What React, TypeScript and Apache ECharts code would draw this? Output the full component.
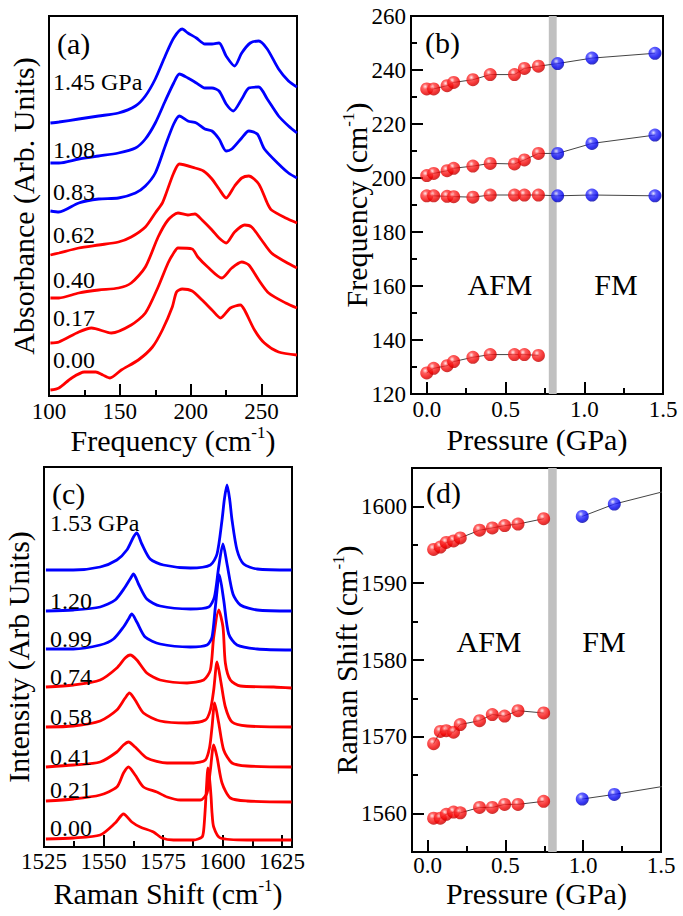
import React, { useEffect, useRef } from 'react';
import * as echarts from 'echarts';

const FONT = 'Liberation Serif';
const RED = '#ff0000';
const BLUE = '#0000ff';
const LINE_GRAY = '#444444';

// ---------------- Panel (a): absorbance spectra (x: cm-1, y: arb. units) ----------------
const absLabelTicks = [100, 150, 200, 250];
const absMajorTicks = [100, 150, 200, 250];
const absMinorTicks = [125, 175, 225];

const abs000X = [101, 107, 116, 125, 133, 138, 143, 151, 163, 173, 180, 187, 190, 194, 201, 208, 215, 221, 228, 235, 238, 245, 252, 262, 275];
const abs000Y = [6, 8, 18, 24, 24, 21, 18, 26, 36, 49, 66, 89, 104, 107, 105, 96, 86, 78, 88, 91, 86, 66, 53, 44, 41];
const abs017X = [101, 107, 121, 130, 144, 158, 168, 177, 184, 188, 191, 201, 205, 212, 222, 229, 236, 241, 248, 255, 267, 275];
const abs017Y = [53, 54, 64, 68, 63, 71, 83, 109, 133, 143, 148, 147, 139, 129, 118, 128, 134, 131, 116, 103, 93, 88];
const abs040X = [101, 107, 121, 135, 149, 158, 168, 177, 184, 191, 198, 203, 208, 215, 220, 225, 231, 238, 243, 250, 257, 267, 275];
const abs040Y = [98, 98, 103, 106, 108, 113, 129, 159, 176, 183, 181, 182, 176, 166, 158, 153, 164, 171, 169, 156, 143, 134, 128];
const abs062X = [101, 107, 121, 135, 149, 158, 168, 175, 180, 182, 188, 192, 203, 209, 215, 220, 225, 231, 236, 241, 248, 254, 257, 267, 275];
const abs062Y = [141, 143, 148, 151, 154, 159, 169, 183, 193, 200, 223, 232, 228, 225, 217, 207, 198, 210, 218, 220, 212, 193, 186, 178, 173];
const abs083X = [101, 107, 121, 135, 149, 161, 168, 175, 182, 188, 192, 198, 204, 210, 215, 220, 225, 229, 236, 241, 247, 252, 262, 269, 275];
const abs083Y = [185, 184, 193, 197, 198, 203, 210, 223, 250, 272, 280, 275, 273, 267, 265, 257, 245, 247, 258, 265, 262, 247, 232, 223, 218];
const abs108X = [101, 107, 121, 135, 149, 161, 168, 175, 182, 188, 192, 198, 204, 210, 215, 220, 225, 230, 236, 241, 248, 254, 262, 269, 275];
const abs108Y = [233, 233, 237, 240, 243, 248, 257, 273, 295, 313, 322, 318, 313, 308, 308, 305, 292, 285, 297, 308, 309, 297, 280, 270, 263];
const abs145X = [101, 107, 121, 135, 149, 161, 168, 175, 182, 188, 194, 198, 204, 210, 215, 220, 225, 231, 236, 242, 248, 254, 262, 269, 275];
const abs145Y = [273, 274, 277, 280, 283, 290, 300, 317, 340, 358, 367, 363, 358, 352, 352, 353, 340, 330, 343, 353, 355, 347, 327, 315, 309];

const absPressureLabels = ['1.45 GPa', '1.08', '0.83', '0.62', '0.40', '0.17', '0.00'];

// ---------------- Panel (b): IR mode frequencies vs pressure ----------------
const bPressureAFM = [0.0, 0.044, 0.129, 0.171, 0.293, 0.403, 0.557, 0.62, 0.709];
const bPressureFM = [0.831, 1.049, 1.449];
const bMode1AFM = [233.0, 233.0, 234.2, 235.4, 236.4, 238.3, 238.3, 240.6, 241.4];
const bMode1FM = [242.4, 244.4, 246.2];
const bMode2AFM = [200.9, 201.7, 202.7, 203.6, 204.4, 205.4, 205.2, 206.7, 209.1];
const bMode2FM = [209.1, 212.8, 215.9];
const bMode3AFM = [193.4, 193.4, 193.2, 193.1, 192.9, 193.7, 193.7, 193.7, 193.7];
const bMode3FM = [193.4, 193.7, 193.4];
const bMode4AFM = [127.8, 129.5, 130.5, 132.0, 133.6, 134.6, 134.6, 134.6, 134.3];
const bBand = [0.775, 0.825];
const bYLabels = [120, 140, 160, 180, 200, 220, 240, 260];
const bYMinor = [130, 150, 170, 190, 210, 230, 250];
const pLabels = [0, 0.5, 1.0, 1.5];
const pMinor = [0.25, 0.75, 1.25];

// ---------------- Panel (c): Raman spectra ----------------
const ramLabelTicks = [1525, 1550, 1575, 1600, 1625];
const ramMajorTicks = [1550, 1575, 1600, 1625];
const ramMinorTicks = [1537.5, 1562.5, 1587.5, 1612.5];

const ram000X = [1525.8, 1537.3, 1548.6, 1554.9, 1558.4, 1561.9, 1565.4, 1571.0, 1574.5, 1579.4, 1587.9, 1591.4, 1592.1, 1592.8, 1593.2, 1593.9, 1594.6, 1595.2, 1595.6, 1596.3, 1599.1, 1610.3, 1629];
const ram000Y = [8, 9, 12, 24, 33, 25, 20, 15, 9, 7, 7, 10, 17, 40, 57, 79, 67, 50, 34, 20, 9, 7, 7];
const ram021X = [1525.8, 1537.3, 1548.6, 1555.6, 1558.4, 1560.5, 1563.3, 1566.8, 1572.4, 1576.7, 1582.3, 1590.7, 1593.5, 1594.9, 1596.3, 1597.7, 1599.8, 1603.3, 1610.3, 1629];
const ram021Y = [46, 48, 52, 60, 74, 80, 72, 60, 55, 50, 47, 47, 54, 77, 102, 90, 64, 49, 46, 45];
const ram041X = [1525.8, 1537.3, 1548.6, 1555.6, 1558.4, 1560.5, 1563.3, 1568.2, 1576.7, 1587.9, 1592.8, 1594.6, 1595.6, 1596.7, 1598.4, 1600.5, 1604.0, 1610.3, 1629];
const ram041Y = [80, 82, 85, 95, 102, 105, 100, 89, 84, 84, 87, 100, 120, 144, 124, 97, 84, 81, 80];
const ram058X = [1525.8, 1537.3, 1548.6, 1555.6, 1559.1, 1560.9, 1563.3, 1566.8, 1573.8, 1585.1, 1592.8, 1594.9, 1596.3, 1597.7, 1599.4, 1601.2, 1604.0, 1610.3, 1629];
const ram058Y = [120, 121, 126, 137, 149, 154, 147, 134, 126, 124, 127, 137, 157, 185, 164, 140, 125, 121, 120];
const ram074X = [1525.8, 1537.3, 1548.6, 1555.6, 1559.1, 1561.2, 1564.0, 1568.2, 1573.8, 1585.1, 1592.1, 1594.9, 1596.3, 1598.4, 1600.2, 1601.2, 1603.3, 1607.5, 1621.5, 1629];
const ram074Y = [160, 162, 167, 179, 189, 192, 187, 174, 167, 164, 167, 177, 210, 237, 220, 184, 167, 161, 160, 159];
const ram099X = [1525.8, 1537.3, 1548.6, 1554.2, 1558.4, 1560.5, 1561.9, 1564.0, 1567.5, 1573.8, 1586.5, 1593.5, 1595.6, 1597.0, 1598.7, 1600.5, 1602.6, 1606.1, 1614.6, 1629];
const ram099Y = [198, 198, 202, 208, 220, 228, 233, 225, 210, 203, 200, 202, 210, 240, 272, 247, 213, 202, 198, 197];
const ram120X = [1525.8, 1537.3, 1548.6, 1554.9, 1559.1, 1561.2, 1562.6, 1564.7, 1568.2, 1573.8, 1586.5, 1594.2, 1596.6, 1598.4, 1600.2, 1601.9, 1604.4, 1607.5, 1614.6, 1629];
const ram120Y = [236, 237, 240, 247, 260, 268, 273, 263, 248, 241, 238, 240, 250, 280, 303, 283, 253, 242, 237, 236];
const ram153X = [1525.8, 1537.3, 1548.6, 1555.6, 1559.8, 1562.6, 1564.0, 1566.1, 1569.6, 1575.2, 1586.5, 1594.9, 1597.7, 1599.8, 1600.8, 1601.9, 1603.0, 1604.0, 1606.1, 1608.9, 1614.6, 1629];
const ram153Y = [277, 277, 280, 287, 297, 310, 314, 303, 288, 282, 279, 282, 293, 327, 348, 362, 348, 327, 297, 283, 278, 277];

const ramPressureLabels = ['1.53 GPa', '1.20', '0.99', '0.74', '0.58', '0.41', '0.21', '0.00'];

// ---------------- Panel (d): Raman shifts vs pressure ----------------
const dPressureAFM = [0.039, 0.082, 0.12, 0.167, 0.21, 0.334, 0.416, 0.495, 0.581, 0.746];
const dPressureFM = [0.994, 1.2, 1.53];
const dTopAFM = [1594.4, 1594.7, 1595.3, 1595.5, 1595.9, 1596.9, 1597.2, 1597.5, 1597.7, 1598.4];
const dTopFM = [1598.7, 1600.3, 1602.0];
const dMidAFM = [1569.1, 1570.7, 1570.8, 1570.6, 1571.6, 1572.1, 1572.9, 1572.7, 1573.4, 1573.1];
const dBotAFM = [1559.4, 1559.4, 1559.9, 1560.2, 1560.1, 1560.8, 1560.8, 1561.2, 1561.2, 1561.6];
const dBotFM = [1561.9, 1562.5, 1563.6];
const dBand = [0.775, 0.83];
const dYLabels = [1560, 1570, 1580, 1590, 1600];
const dYMinor = [1565, 1575, 1585, 1595];

// ------------------------------------------------------------------------------------
const GRIDS = [
  { left: 49, top: 16, width: 248, height: 380 },
  { left: 411, top: 16, width: 252, height: 378 },
  { left: 44, top: 467, width: 248, height: 380 },
  { left: 412, top: 468, width: 249, height: 384 },
];

const TITLE_SIZE = 30;

const richTitle = () => ({
  color: '#000',
  fontFamily: FONT,
  fontSize: TITLE_SIZE,
  rich: {
    n: { fontFamily: FONT, fontSize: TITLE_SIZE, lineHeight: 32, color: '#000' },
    s: { fontFamily: FONT, fontSize: 17, lineHeight: 17, color: '#000', verticalAlign: 'top' },
  },
});
const plainTitle = () => ({ color: '#000', fontFamily: FONT, fontSize: TITLE_SIZE, lineHeight: 30 });

const blackLine = { color: '#000', width: 2 };

function zip(xs: number[], ys: number[]) {
  return xs.map((x, i) => [x, ys[i]]);
}

function mainAxis(kind: 'x' | 'y', gridIndex: number, min: number, max: number, labels: number[], ticks: number[], fmt: ((v: number) => string) | null, name: string, nameGap: number, titleStyle: any, labelMargin: number) {
  return {
    type: 'value',
    gridIndex,
    min,
    max,
    position: kind === 'x' ? 'bottom' : 'left',
    nameMoveOverlap: false,
    splitLine: { show: false },
    axisLine: { show: true, onZero: false, lineStyle: { ...blackLine } },
    axisTick: ticks.length
      ? { show: true, inside: true, length: 12, customValues: ticks, lineStyle: { ...blackLine } }
      : { show: false },
    axisLabel: labels.length
      ? {
          show: true,
          customValues: labels,
          formatter: fmt || undefined,
          margin: labelMargin,
          color: '#000',
          fontSize: 23,
          fontFamily: FONT,
          hideOverlap: false,
        }
      : { show: false },
    name,
    nameLocation: 'middle',
    nameRotate: kind === 'y' ? 90 : 0,
    nameGap,
    nameTextStyle: titleStyle,
  };
}

function minorAxis(kind: 'x' | 'y', gridIndex: number, min: number, max: number, ticks: number[]) {
  return {
    type: 'value',
    gridIndex,
    min,
    max,
    position: kind === 'x' ? 'bottom' : 'left',
    splitLine: { show: false },
    axisLine: { show: false, onZero: false },
    axisTick: ticks.length
      ? { show: true, inside: true, length: 6, customValues: ticks, lineStyle: { ...blackLine } }
      : { show: false },
    axisLabel: { show: false },
  };
}

function spectrum(xi: number, xs: number[], ys: number[], color: string) {
  return {
    type: 'line',
    xAxisIndex: xi,
    yAxisIndex: xi,
    data: zip(xs, ys),
    symbol: 'none',
    smooth: 0.25,
    clip: true,
    silent: true,
    z: 2,
    lineStyle: { color, width: 2.8 },
  };
}

function fitLine(xi: number, xs: number[], ys: number[]) {
  return {
    type: 'line',
    xAxisIndex: xi,
    yAxisIndex: xi,
    data: zip(xs, ys),
    symbol: 'none',
    clip: true,
    silent: true,
    z: 2,
    lineStyle: { color: LINE_GRAY, width: 1 },
  };
}

function ball(c0: string, c1: string, c2: string, c3: string) {
  return {
    type: 'radial',
    x: 0.38,
    y: 0.32,
    r: 0.72,
    colorStops: [
      { offset: 0, color: c0 },
      { offset: 0.28, color: c1 },
      { offset: 0.72, color: c2 },
      { offset: 1, color: c3 },
    ],
  };
}
const redBall = ball('#ffe4e4', '#ff3a3a', '#f00000', '#b40000');
const blueBall = ball('#dcdcff', '#3a3aff', '#0000f0', '#00009a');

function dots(xi: number, xs: number[], ys: number[], fill: any) {
  return {
    type: 'scatter',
    xAxisIndex: xi,
    yAxisIndex: xi,
    data: zip(xs, ys),
    symbol: 'circle',
    symbolSize: 13,
    clip: true,
    silent: true,
    z: 3,
    itemStyle: { color: fill },
  };
}

function band(xi: number, range: number[]) {
  return {
    type: 'line',
    xAxisIndex: xi,
    yAxisIndex: xi,
    data: [],
    silent: true,
    z: 1,
    markArea: {
      silent: true,
      itemStyle: { color: '#c0c0c0', opacity: 1 },
      data: [[{ xAxis: range[0] }, { xAxis: range[1] }]],
    },
  };
}

function text(t: string, x: number, y: number, size: number, align: string = 'left') {
  return {
    type: 'text',
    x,
    y,
    silent: true,
    z: 10,
    style: {
      text: t,
      fill: '#000',
      fontSize: size,
      fontFamily: FONT,
      align,
      verticalAlign: 'middle',
      textAlign: align,
      textVerticalAlign: 'middle',
    },
  };
}

function buildOption() {
  const fmt1 = (v: number) => v.toFixed(1);
  const fmt0 = (v: number) => String(Math.round(v));

  const grid = [
    ...GRIDS.map((g) => ({ ...g, show: true, borderColor: '#000', borderWidth: 2, backgroundColor: 'transparent', containLabel: false, outerBoundsMode: 'none' })),
    ...GRIDS.map((g) => ({ ...g, show: false, containLabel: false, outerBoundsMode: 'none' })),
  ];

  const xAxis = [
    mainAxis('x', 0, 100, 275, absLabelTicks, absMajorTicks, fmt0, '{n|Frequency (cm}{s|-1}{n|)}', 28, richTitle(), 4),
    mainAxis('x', 1, -0.1, 1.5, pLabels, pLabels, fmt1, '{n|Pressure (GPa)}', 29, richTitle(), 4),
    mainAxis('x', 2, 1525, 1629.2, ramLabelTicks, ramMajorTicks, fmt0, '{n|Raman Shift (cm}{s|-1}{n|)}', 30, richTitle(), 3),
    mainAxis('x', 3, -0.1, 1.5, pLabels, pLabels, fmt1, '{n|Pressure (GPa)}', 25, richTitle(), 2),
    minorAxis('x', 4, 100, 275, absMinorTicks),
    minorAxis('x', 5, -0.1, 1.5, pMinor),
    minorAxis('x', 6, 1525, 1629.2, ramMinorTicks),
    minorAxis('x', 7, -0.1, 1.5, pMinor),
  ];
  const yAxis = [
    mainAxis('y', 0, 0, 380, [], [], null, 'Absorbance (Arb. Units)', 11, plainTitle(), 5),
    mainAxis('y', 1, 120, 260, bYLabels, bYLabels, fmt0, '{n|Frequency (cm}{s|-1}{n|)}', 39, richTitle(), 5),
    mainAxis('y', 2, 0, 380, [], [], null, 'Intensity (Arb Units)', 11, plainTitle(), 5),
    mainAxis('y', 3, 1555, 1605, dYLabels, dYLabels, fmt0, '{n|Raman Shift (cm}{s|-1}{n|)}', 50, richTitle(), 5),
    minorAxis('y', 4, 0, 380, []),
    minorAxis('y', 5, 120, 260, bYMinor),
    minorAxis('y', 6, 0, 380, []),
    minorAxis('y', 7, 1555, 1605, dYMinor),
  ];

  const bAll = [...bPressureAFM, ...bPressureFM];

  const series: any[] = [
    // (a)
    spectrum(0, abs000X, abs000Y, RED),
    spectrum(0, abs017X, abs017Y, RED),
    spectrum(0, abs040X, abs040Y, RED),
    spectrum(0, abs062X, abs062Y, RED),
    spectrum(0, abs083X, abs083Y, BLUE),
    spectrum(0, abs108X, abs108Y, BLUE),
    spectrum(0, abs145X, abs145Y, BLUE),
    // (b)
    band(1, bBand),
    fitLine(1, bAll, [...bMode1AFM, ...bMode1FM]),
    fitLine(1, bAll, [...bMode2AFM, ...bMode2FM]),
    fitLine(1, bAll, [...bMode3AFM, ...bMode3FM]),
    fitLine(1, bPressureAFM, bMode4AFM),
    dots(1, bPressureAFM, bMode1AFM, redBall),
    dots(1, bPressureAFM, bMode2AFM, redBall),
    dots(1, bPressureAFM, bMode3AFM, redBall),
    dots(1, bPressureAFM, bMode4AFM, redBall),
    dots(1, bPressureFM, bMode1FM, blueBall),
    dots(1, bPressureFM, bMode2FM, blueBall),
    dots(1, bPressureFM, bMode3FM, blueBall),
    // (c)
    spectrum(2, ram000X, ram000Y, RED),
    spectrum(2, ram021X, ram021Y, RED),
    spectrum(2, ram041X, ram041Y, RED),
    spectrum(2, ram058X, ram058Y, RED),
    spectrum(2, ram074X, ram074Y, RED),
    spectrum(2, ram099X, ram099Y, BLUE),
    spectrum(2, ram120X, ram120Y, BLUE),
    spectrum(2, ram153X, ram153Y, BLUE),
    // (d)
    band(3, dBand),
    fitLine(3, dPressureAFM, dTopAFM),
    fitLine(3, dPressureAFM, dMidAFM),
    fitLine(3, dPressureAFM, dBotAFM),
    fitLine(3, dPressureFM, dTopFM),
    fitLine(3, dPressureFM, dBotFM),
    dots(3, dPressureAFM, dTopAFM, redBall),
    dots(3, dPressureAFM, dMidAFM, redBall),
    dots(3, dPressureAFM, dBotAFM, redBall),
    dots(3, dPressureFM.slice(0, 2), dTopFM.slice(0, 2), blueBall),
    dots(3, dPressureFM.slice(0, 2), dBotFM.slice(0, 2), blueBall),
  ];

  const absLabelY = [82, 150, 192, 235, 279.5, 317.5, 359.5];
  const ramLabelY = [523, 601, 638.5, 676.5, 717, 756.5, 790, 827.5];

  const graphic = [
    text('(a)', 57, 43.5, 30),
    text('(b)', 425, 42, 30),
    text('(c)', 52, 493, 30),
    text('(d)', 426, 492.5, 30),
    ...absPressureLabels.map((t, i) => text(t, 53, absLabelY[i], 24)),
    ...ramPressureLabels.map((t, i) => text(t, 50, ramLabelY[i], 24)),
    text('AFM', 500, 284, 30, 'center'),
    text('FM', 616, 284, 30, 'center'),
    text('AFM', 489, 641, 30, 'center'),
    text('FM', 604, 641, 30, 'center'),
  ];

  return {
    animation: false,
    backgroundColor: '#ffffff',
    textStyle: { fontFamily: FONT },
    grid,
    xAxis,
    yAxis,
    series,
    graphic,
  };
}

export default function App() {
  const ref = useRef<HTMLDivElement>(null);
  useEffect(() => {
    const el = ref.current;
    if (!el) return;
    const chart = echarts.init(el, null, { renderer: 'svg' });
    chart.setOption(buildOption() as any);
    return () => {
      chart.dispose();
    };
  }, []);
  return (
    <div
      ref={ref}
      style={{ position: 'absolute', left: 0, top: 0, width: 683, height: 916, background: '#fff' }}
    />
  );
}
